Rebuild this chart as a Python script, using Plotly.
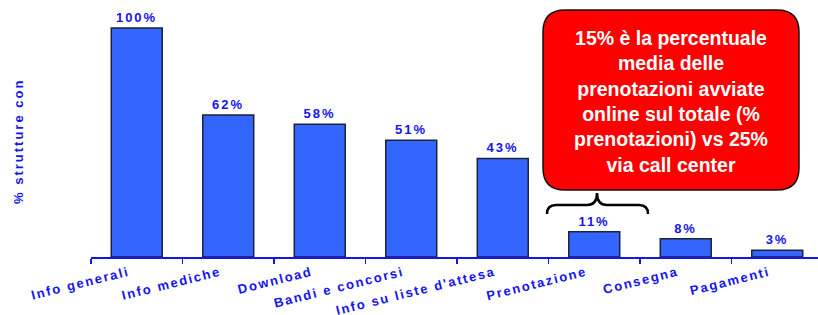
import plotly.graph_objects as go

categories = ["Info generali", "Info mediche", "Download", "Bandi e concorsi",
              "Info su liste d'attesa", "Prenotazione", "Consegna", "Pagamenti"]
values = [100, 62, 58, 51, 43, 11, 8, 3]
value_labels = ["100%", "62%", "58%", "51%", "43%", "11%", "8%", "3%"]
y_title = "% strutture con"
callout_lines = ["15% è la percentuale", "media delle", "prenotazioni avviate",
                 "online sul totale (%", "prenotazioni) vs 25%", "via call center"]

W, H = 818, 315
ML, MR, MT, MB = 91, 0, 5, 58
PW, PH = W - ML - MR, H - MT - MB

def px(x):
    return (x - ML) / PW

def py(y):
    return (H - MB - y) / PH

BLUE = "#1414f0"
FONT = "Liberation Sans, Arial, sans-serif"

fig = go.Figure()
fig.add_trace(go.Bar(
    x=categories, y=values, text=value_labels, textposition="outside",
    textfont=dict(family=FONT, size=13, color=BLUE, weight="bold"),
    marker=dict(color="#3366ff", line=dict(color="#1e2236", width=1.5)),
    cliponaxis=False, hoverinfo="skip",
))

# rounded callout box
x0, x1, y0, y1, r = 543, 799, 10, 190, 22
path_px = [("M", x0 + r, y0), ("L", x1 - r, y0), ("Q", x1, y0, x1, y0 + r),
           ("L", x1, y1 - r), ("Q", x1, y1, x1 - r, y1), ("L", x0 + r, y1),
           ("Q", x0, y1, x0, y1 - r), ("L", x0, y0 + r), ("Q", x0, y0, x0 + r, y0)]

def to_path(cmds):
    out = []
    for c in cmds:
        op = c[0]
        pts = c[1:]
        coords = []
        for i in range(0, len(pts), 2):
            coords.append(f"{px(pts[i]):.5f},{py(pts[i+1]):.5f}")
        out.append(op + " " + " ".join(coords))
    return " ".join(out)

fig.add_shape(type="path", xref="paper", yref="paper", path=to_path(path_px) + " Z",
              fillcolor="#ff0000", line=dict(color="#111111", width=1.5), layer="above")

# curly brace
brace = [("M", 547, 214), ("Q", 547, 205, 556, 205), ("L", 587, 205),
         ("Q", 597, 205, 597, 193), ("Q", 597, 205, 607, 205), ("L", 639, 205),
         ("Q", 648, 205, 648, 214)]
fig.add_shape(type="path", xref="paper", yref="paper", path=to_path(brace),
              line=dict(color="#000000", width=2.5), layer="above")

fig.add_annotation(xref="paper", yref="paper", x=px(671), y=py(101),
                   text="<br>".join(callout_lines), showarrow=False,
                   font=dict(family=FONT, size=19.5, color="white", weight="bold"),
                   align="center", xanchor="center", yanchor="middle")

fig.add_annotation(xref="paper", yref="paper", x=px(18), y=py(142),
                   text=y_title, textangle=-90, showarrow=False,
                   font=dict(family=FONT, size=13, color=BLUE, weight="bold"),
                   xanchor="center", yanchor="middle")

fig.update_layout(
    width=W, height=H, margin=dict(l=ML, r=MR, t=MT, b=MB, autoexpand=False),
    plot_bgcolor="white", paper_bgcolor="white", showlegend=False,
    bargap=0.443, hovermode=False,
    xaxis=dict(range=[-0.5, -0.5 + PW / 91.5], showline=True, linecolor=BLUE, linewidth=2,
               ticks="outside", tickson="boundaries", ticklen=5, tickwidth=1.5,
               tickcolor=BLUE, tickangle=-14, showgrid=False, automargin=False,
               ticklabelstandoff=1, ticklabelshift=-8,
               tickfont=dict(family=FONT, size=13, color=BLUE, weight="bold")),
    yaxis=dict(range=[0, 110], showgrid=False, zeroline=False, showticklabels=False,
               showline=False, ticks="", automargin=False),
)

post = """
(function(){
  document.body.style.margin='0';
  document.body.style.overflow='hidden';
  function apply(){
    var gd = document.getElementById('{plot_id}');
    if(!gd) return;
    gd.querySelectorAll('.xtick text').forEach(function(t){ t.style.letterSpacing='1.8px'; });
    gd.querySelectorAll('.bartext').forEach(function(t){ t.style.letterSpacing='2px'; });
    var anns = gd.querySelectorAll('.annotation');
    anns.forEach(function(a){
      if(a.getAttribute('data-index')==='1'){
        a.querySelectorAll('text').forEach(function(t){ t.style.letterSpacing='2px'; });
      }
    });
  }
  apply();
  setTimeout(apply, 50);
  setTimeout(apply, 300);
})();
"""

fig.write_html("out.html", post_script=post, config={"displayModeBar": False, "staticPlot": True})
